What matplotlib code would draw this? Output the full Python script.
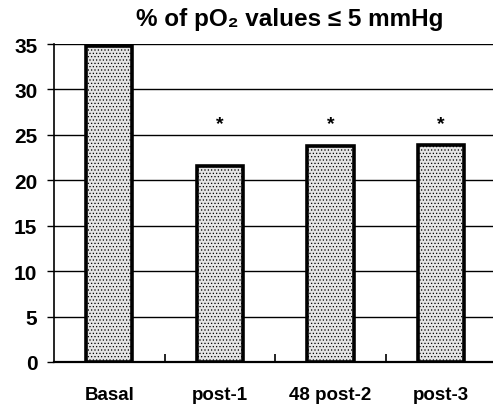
import matplotlib.pyplot as plt
import numpy as np

plt.rcParams['font.family'] = ['Liberation Sans', 'DejaVu Sans']
plt.rcParams['hatch.color'] = '#a8a8a8'
plt.rcParams['hatch.linewidth'] = 0.5

# データ
categories = ['Basal', 'post-1', '48 post-2', 'post-3']
values = [34.8, 21.6, 23.8, 23.9]
significant = [False, True, True, True]

fig = plt.figure(figsize=(4.93, 4.06), dpi=100)
ax = fig.add_axes([0.1095, 0.106, 0.897, 0.783])

x = np.arange(len(categories))
ax.bar(x, values, width=0.42, facecolor='#e4e4e4', edgecolor='black',
       linewidth=2.6, hatch='.....', zorder=3)

for xi, s in zip(x, significant):
    if s:
        ax.text(xi, 26.3, '*', ha='center', va='center', fontsize=14,
                fontweight='bold')

ax.set_xlim(-0.5, 3.5)
ax.set_ylim(0, 35)
ax.set_yticks(np.arange(0, 36, 5))
ax.yaxis.grid(True, color='black', linewidth=1.0, zorder=0)
ax.set_axisbelow(True)

ax.set_xticks(x)
ax.set_xticklabels(categories, fontsize=13.5, fontweight='bold')
ax.tick_params(axis='x', which='major', length=0, pad=17)
ax.set_xticks([0.5, 1.5, 2.5], minor=True)
ax.tick_params(axis='x', which='minor', direction='in', length=6, width=1.2)
ax.tick_params(axis='y', direction='out', length=5, width=1.0, labelsize=15,
               pad=7)
for lab in ax.get_yticklabels():
    lab.set_fontweight('bold')

for side in ['top', 'right']:
    ax.spines[side].set_visible(False)
ax.spines['left'].set_linewidth(1.2)
ax.spines['bottom'].set_linewidth(1.6)

fig.text(0.588, 0.952, '% of pO₂ values ≤ 5 mmHg', ha='center', va='center',
         fontsize=17.5, fontweight='bold')

fig.savefig('out.png', dpi=100)
